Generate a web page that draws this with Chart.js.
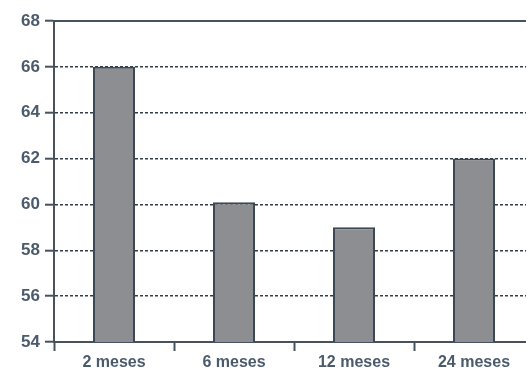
<!DOCTYPE html>
<html lang="es">
<head>
  <meta charset="UTF-8">
  <title>Meses</title>
  <script src="https://cdn.jsdelivr.net/npm/chart.js"></script>
  <style>
    html, body { margin: 0; padding: 0; background: #fff; overflow: hidden; }
    .wrap { width: 540px; height: 371px; }
  </style>
</head>
<body>
  <div class="wrap"><canvas id="barChart" width="540" height="371"></canvas></div>
  <script>
    // datos
    var categorias = ['2 meses', '6 meses', '12 meses', '24 meses'];
    var valores = [66, 60.1, 59, 62];
    var yMin = 54, yMax = 68, yPaso = 2;

    var ejeColor = '#46525e';
    var textoColor = '#4b5b6c';

    var ctx = document.getElementById('barChart').getContext('2d');
    var barChart = new Chart(ctx, {
      type: 'bar',
      data: {
        labels: categorias,
        datasets: [{
          data: valores,
          backgroundColor: '#8d8e92',
          borderColor: '#3c4853',
          borderWidth: 2,
          borderSkipped: false,
          categoryPercentage: 1,
          barPercentage: 0.35
        }]
      },
      options: {
        responsive: false,
        animation: false,
        layout: { padding: { top: 20, right: 6, left: 0, bottom: 0 } },
        plugins: { legend: { display: false }, tooltip: { enabled: false } },
        scales: {
          x: {
            grid: { offset: true, drawOnChartArea: false, drawTicks: true, tickLength: 9, tickColor: ejeColor, tickWidth: 2 },
            border: { display: true, color: ejeColor, width: 2 },
            ticks: { color: textoColor, padding: 2, font: { family: 'Liberation Sans', size: 16, weight: 'bold' } },
            afterFit: function(s) { s.height = 29; }
          },
          x2: {
            position: 'top',
            grid: { display: false, drawTicks: false },
            border: { display: true, color: ejeColor, width: 2 },
            ticks: { display: false },
            afterFit: function(s) { s.height = 1; }
          },
          y: {
            min: yMin,
            max: yMax,
            ticks: { stepSize: yPaso, color: textoColor, padding: 5, font: { family: 'Liberation Sans', size: 17, weight: 'bold' } },
            grid: { color: '#333d46', lineWidth: 1.4, tickLength: 9, tickColor: ejeColor, tickWidth: 2 },
            border: { display: true, color: ejeColor, width: 2, dash: [3, 2] },
            afterFit: function(s) { s.width = 54; }
          }
        }
      }
    });
  </script>
</body>
</html>
